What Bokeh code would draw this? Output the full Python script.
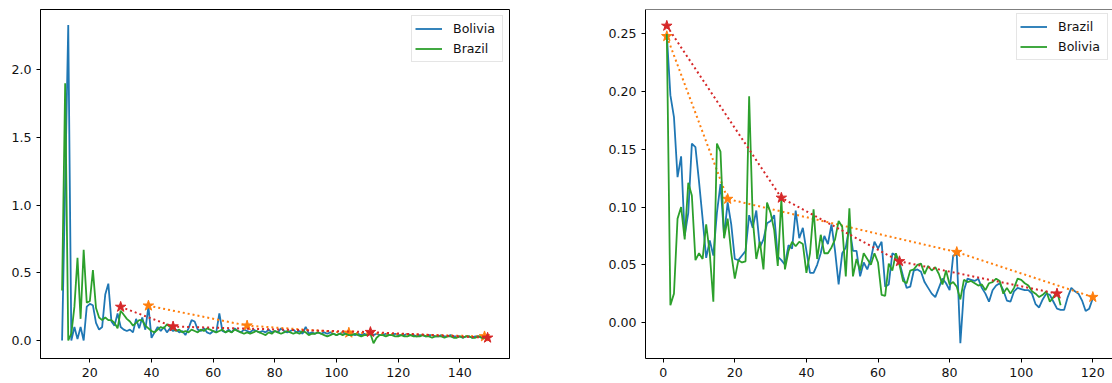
from bokeh.plotting import figure
from bokeh.layouts import row
from bokeh.models import FixedTicker, NumeralTickFormatter, Span
from bokeh.embed import file_html
from bokeh.resources import INLINE

# ---------------- data: left chart ----------------
left_bolivia_x = list(range(11, 148))
left_bolivia_y = [
    0.00, 1.15, 2.33, 0.00, 0.10, 0.01, 0.10, 0.00, 0.25, 0.27,   # 11-20
    0.26, 0.13, 0.08, 0.10, 0.34, 0.42, 0.14, 0.11, 0.20, 0.10,   # 21-30
    0.08, 0.07, 0.08, 0.06, 0.16, 0.09, 0.17, 0.08, 0.25, 0.02,   # 31-40
    0.06, 0.10, 0.07, 0.10, 0.06, 0.09, 0.07, 0.08, 0.06, 0.07,   # 41-50
    0.04, 0.09, 0.15, 0.14, 0.08, 0.07, 0.09, 0.06, 0.05, 0.07,   # 51-60
    0.06, 0.20, 0.07, 0.06, 0.08, 0.06, 0.09, 0.07, 0.06, 0.08,   # 61-70
    0.07, 0.06, 0.08, 0.07, 0.06, 0.07, 0.06, 0.08, 0.06, 0.07,   # 71-80
    0.06, 0.09, 0.07, 0.06, 0.07, 0.08, 0.06, 0.07, 0.05, 0.10,   # 81-90
    0.05, 0.06, 0.05, 0.06, 0.05, 0.06, 0.05, 0.06, 0.05, 0.04,   # 91-100
    0.05, 0.06, 0.05, 0.04, 0.05, 0.04, 0.05, 0.04, 0.05, 0.04,   # 101-110
    0.05, 0.04, 0.05, 0.04, 0.04, 0.05, 0.04, 0.04, 0.05, 0.04,   # 111-120
    0.04, 0.04, 0.05, 0.04, 0.04, 0.03, 0.04, 0.04, 0.03, 0.04,   # 121-130
    0.04, 0.03, 0.03, 0.04, 0.03, 0.03, 0.04, 0.03, 0.03, 0.03,   # 131-140
    0.02, 0.03, 0.03, 0.02, 0.03, 0.03, 0.03,                     # 141-147
]
left_brazil_x = list(range(11, 150))
left_brazil_y = [
    0.37, 1.90, 0.00, 0.05, 0.25, 0.61, 0.16, 0.67, 0.28, 0.29,   # 11-20
    0.52, 0.24, 0.17, 0.15, 0.17, 0.15, 0.15, 0.13, 0.09, 0.22,   # 21-30
    0.19, 0.16, 0.14, 0.11, 0.13, 0.15, 0.15, 0.11, 0.09, 0.07,   # 31-40
    0.06, 0.08, 0.10, 0.09, 0.12, 0.10, 0.09, 0.07, 0.08, 0.06,   # 41-50
    0.07, 0.06, 0.08, 0.07, 0.06, 0.08, 0.07, 0.09, 0.08, 0.07,   # 51-60
    0.06, 0.07, 0.08, 0.06, 0.07, 0.06, 0.08, 0.07, 0.06, 0.05,   # 61-70
    0.06, 0.05, 0.06, 0.07, 0.06, 0.05, 0.04, 0.06, 0.05, 0.07,   # 71-80
    0.06, 0.05, 0.06, 0.07, 0.06, 0.05, 0.06, 0.05, 0.07, 0.06,   # 81-90
    0.04, 0.05, 0.05, 0.06, 0.05, 0.04, 0.03, 0.04, 0.05, 0.04,   # 91-100
    0.05, 0.04, 0.05, 0.04, 0.04, 0.05, 0.04, 0.03, 0.04, 0.04,   # 101-110
    0.05, -0.02, 0.02, 0.04, 0.04, 0.03, 0.04, 0.04, 0.03, 0.03,  # 111-120
    0.04, 0.03, 0.03, 0.04, 0.03, 0.03, 0.03, 0.04, 0.03, 0.03,   # 121-130
    0.02, 0.03, 0.03, 0.03, 0.02, 0.03, 0.03, 0.02, 0.02, 0.03,   # 131-140
    0.02, 0.03, 0.03, 0.02, 0.02, 0.03, 0.02, 0.02, 0.02,         # 141-149
]
left_orange_x = [39, 71, 104, 148]
left_orange_y = [0.257, 0.110, 0.057, 0.030]
left_red_x = [30, 47, 111, 149]
left_red_y = [0.248, 0.103, 0.062, 0.020]

left_x_ticks = [20, 40, 60, 80, 100, 120, 140]
left_y_ticks = [0.0, 0.5, 1.0, 1.5, 2.0]

# ---------------- data: right chart ----------------
right_brazil_x = list(range(1, 121))
right_brazil_y = [
    0.250, 0.197, 0.178, 0.126, 0.144, 0.075, 0.095, 0.155, 0.152, 0.122,  # 1-10
    0.090, 0.056, 0.071, 0.058, 0.095, 0.120, 0.075, 0.104, 0.085, 0.055,  # 11-20
    0.054, 0.058, 0.062, 0.093, 0.082, 0.097, 0.065, 0.072, 0.086, 0.088,  # 21-30
    0.093, 0.057, 0.054, 0.050, 0.067, 0.064, 0.097, 0.073, 0.082, 0.062,  # 31-40
    0.043, 0.043, 0.050, 0.060, 0.075, 0.068, 0.085, 0.062, 0.033, 0.060,  # 41-50
    0.065, 0.083, 0.062, 0.062, 0.040, 0.052, 0.046, 0.055, 0.070, 0.064,  # 51-60
    0.070, 0.031, 0.033, 0.060, 0.058, 0.052, 0.040, 0.030, 0.031, 0.045,  # 61-70
    0.046, 0.044, 0.035, 0.030, 0.025, 0.022, 0.030, 0.038, 0.034, 0.028,  # 71-80
    0.058, 0.059, -0.018, 0.028, 0.038, 0.037, 0.036, 0.038, 0.030, 0.025, # 81-90
    0.018, 0.028, 0.032, 0.034, 0.028, 0.019, 0.018, 0.027, 0.030, 0.029,  # 91-100
    0.028, 0.028, 0.025, 0.016, 0.013, 0.020, 0.025, 0.024, 0.018, 0.012,  # 101-110
    0.011, 0.011, 0.022, 0.030, 0.027, 0.025, 0.019, 0.010, 0.012, 0.021,  # 111-120
]
right_bolivia_x = list(range(1, 112))
right_bolivia_y = [
    0.250, 0.015, 0.025, 0.090, 0.100, 0.072, 0.121, 0.110, 0.054, 0.060,  # 1-10
    0.055, 0.085, 0.060, 0.018, 0.155, 0.148, 0.073, 0.090, 0.060, 0.038,  # 11-20
    0.054, 0.052, 0.053, 0.196, 0.090, 0.055, 0.070, 0.046, 0.104, 0.095,  # 21-30
    0.080, 0.049, 0.107, 0.046, 0.062, 0.070, 0.066, 0.070, 0.068, 0.043,  # 31-40
    0.060, 0.098, 0.055, 0.076, 0.060, 0.060, 0.065, 0.072, 0.088, 0.083,  # 41-50
    0.040, 0.099, 0.040, 0.055, 0.045, 0.060, 0.055, 0.050, 0.060, 0.052,  # 51-60
    0.024, 0.023, 0.051, 0.045, 0.060, 0.050, 0.036, 0.034, 0.045, 0.046,  # 61-70
    0.050, 0.051, 0.042, 0.049, 0.045, 0.048, 0.042, 0.033, 0.045, 0.033,  # 71-80
    0.035, 0.031, 0.020, 0.037, 0.035, 0.036, 0.034, 0.032, 0.033, 0.028,  # 81-90
    0.034, 0.035, 0.038, 0.036, 0.025, 0.030, 0.025, 0.030, 0.038, 0.037,  # 91-100
    0.034, 0.032, 0.027, 0.025, 0.022, 0.024, 0.027, 0.018, 0.022, 0.027,  # 101-110
    0.015,                                                                 # 111
]
right_orange_x = [1, 18, 82, 120]
right_orange_y = [0.248, 0.107, 0.061, 0.022]
right_red_x = [1, 33, 66, 110]
right_red_y = [0.257, 0.108, 0.053, 0.025]

right_x_ticks = [0, 20, 40, 60, 80, 100, 120]
right_y_ticks = [0.00, 0.05, 0.10, 0.15, 0.20, 0.25]

BLUE = "#1f77b4"
ORANGE = "#ff7f0e"
GREEN = "#2ca02c"
RED = "#d62728"
FONT = "DejaVu Sans"
FS = "12.6px"


def style(p, xt, yt, yfmt):
    p.grid.visible = False
    p.xaxis.ticker = FixedTicker(ticks=xt)
    p.yaxis.ticker = FixedTicker(ticks=yt)
    p.xaxis.formatter = NumeralTickFormatter(format="0")
    p.yaxis.formatter = NumeralTickFormatter(format=yfmt)
    for ax in (p.xaxis[0], p.yaxis[0]):
        ax.axis_line_color = "black"
        ax.axis_line_width = 1
        ax.major_tick_line_color = "black"
        ax.major_tick_line_width = 1
        ax.major_tick_in = 0
        ax.major_tick_out = 4
        ax.minor_tick_line_color = None
        ax.major_label_text_font = FONT
        ax.major_label_text_font_size = FS
        ax.major_label_text_color = "#111111"
        ax.major_label_standoff = 5


def style_legend(p, margin):
    lg = p.legend[0]
    lg.location = "top_right"
    lg.label_text_font = FONT
    lg.label_text_font_size = FS
    lg.label_text_color = "#111111"
    lg.glyph_width = 27
    lg.glyph_height = 19
    lg.label_height = 19
    lg.label_width = 46
    lg.label_standoff = 11
    lg.spacing = 1
    lg.padding = 3
    lg.margin = margin
    lg.border_line_color = "#cccccc"
    lg.border_line_width = 1
    lg.background_fill_alpha = 0.8


def draw(p, bx, by, blabel, ox, oy, gx, gy, glabel, rx, ry):
    p.line(bx, by, line_color=BLUE, line_width=1.8, legend_label=blabel)
    p.line(ox, oy, line_color=ORANGE, line_width=2, line_dash="2 3")
    p.scatter(ox, oy, marker="star", size=11, fill_color=ORANGE, line_color=ORANGE)
    p.line(gx, gy, line_color=GREEN, line_width=1.8, legend_label=glabel)
    p.line(rx, ry, line_color=RED, line_width=2, line_dash="2 3")
    p.scatter(rx, ry, marker="star", size=11, fill_color=RED, line_color=RED)


# ---------------- left figure ----------------
p1 = figure(frame_width=469, frame_height=349,
            min_border_left=40, min_border_right=51,
            min_border_top=9, min_border_bottom=25,
            x_range=(4.0, 156.1), y_range=(-0.133, 2.445),
            output_backend="svg", toolbar_location=None)
draw(p1, left_bolivia_x, left_bolivia_y, "Bolivia",
     left_orange_x, left_orange_y,
     left_brazil_x, left_brazil_y, "Brazil",
     left_red_x, left_red_y)
style(p1, left_x_ticks, left_y_ticks, "0.0")
style_legend(p1, 6)
p1.outline_line_color = "black"
p1.outline_line_width = 1
p1.outline_line_alpha = 1

# ---------------- right figure ----------------
p2 = figure(frame_width=467, frame_height=349,
            min_border_left=85, min_border_right=0,
            min_border_top=9, min_border_bottom=25,
            x_range=(-4.95, 125.5), y_range=(-0.0312, 0.2712),
            output_backend="svg", toolbar_location=None)
draw(p2, right_brazil_x, right_brazil_y, "Brazil",
     right_orange_x, right_orange_y,
     right_bolivia_x, right_bolivia_y, "Bolivia",
     right_red_x, right_red_y)
style(p2, right_x_ticks, right_y_ticks, "0.00")
style_legend(p2, 4)
p2.outline_line_color = None
p2.add_layout(Span(location=0.2712, dimension="width", line_color="black", line_width=1))

layout = row(p1, p2)
open("out.html", "w").write(file_html(layout, INLINE))
